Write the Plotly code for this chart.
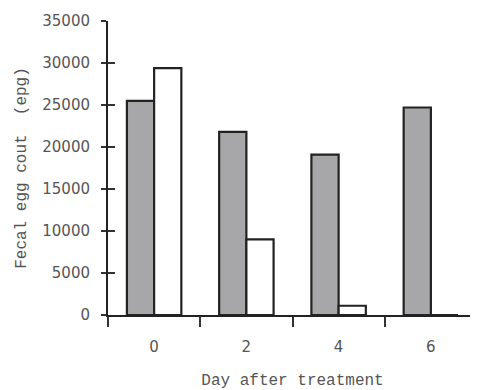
import plotly.graph_objects as go

days = ["0", "2", "4", "6"]
series_a = [25500, 21800, 19100, 24700]   # gray bars
series_b = [29400, 9000, 1100, 0]         # white bars
y_ticks = [0, 5000, 10000, 15000, 20000, 25000, 30000, 35000]
y_labels = ["0", "5000", "10000", "15000", "20000", "25000", "30000", "35000"]

fig = go.Figure()
fig.add_bar(x=days, y=series_a, marker=dict(color="#a7a7aa", line=dict(color="#222222", width=2.2)), showlegend=False)
fig.add_bar(x=days, y=series_b, marker=dict(color="#ffffff", line=dict(color="#222222", width=2.2)), showlegend=False)
# invisible trace to carry an overlay y axis (inner half of crossing ticks)
fig.add_scatter(x=days, y=[None]*4, yaxis="y2", showlegend=False, hoverinfo="skip")

fig.update_layout(
    width=470, height=382,
    margin=dict(l=100, r=1, t=13, b=75, autoexpand=False),
    paper_bgcolor="white", plot_bgcolor="white",
    barmode="group", bargap=0.41, bargroupgap=0,
    xaxis=dict(
        type="category", range=[-0.5, 3.5], automargin=False,
        showline=True, linecolor="#222222", linewidth=2,
        ticks="outside", tickson="boundaries", ticklen=10, tickwidth=1.5, tickcolor="#333333",
        ticklabelstandoff=17,
        tickfont=dict(family="DejaVu Sans", size=15, color="#555555"),
        showgrid=False,
        title=dict(text="Day after treatment", standoff=19,
                   font=dict(family="Liberation Mono", size=16, color="#555555")),
    ),
    yaxis=dict(
        range=[0, 35000], tickvals=y_ticks, ticktext=y_labels, automargin=False,
        showline=True, linecolor="#222222", linewidth=2,
        ticks="outside", ticklen=5, tickwidth=1.5, tickcolor="#333333",
        ticklabelstandoff=8,
        tickfont=dict(family="DejaVu Sans", size=15, color="#555555"),
        showgrid=False, zeroline=False,
        title=dict(text="Fecal egg cout\u00a0 (epg)", standoff=12,
                   font=dict(family="Liberation Mono", size=16, color="#555555")),
    ),
    yaxis2=dict(
        overlaying="y", side="left", range=[0, 35000], tickvals=y_ticks, automargin=False,
        ticks="inside", ticklen=7, tickwidth=1.5, tickcolor="#333333",
        showticklabels=False, showgrid=False, zeroline=False, showline=False,
    ),
)

fig.write_html("out.html")
